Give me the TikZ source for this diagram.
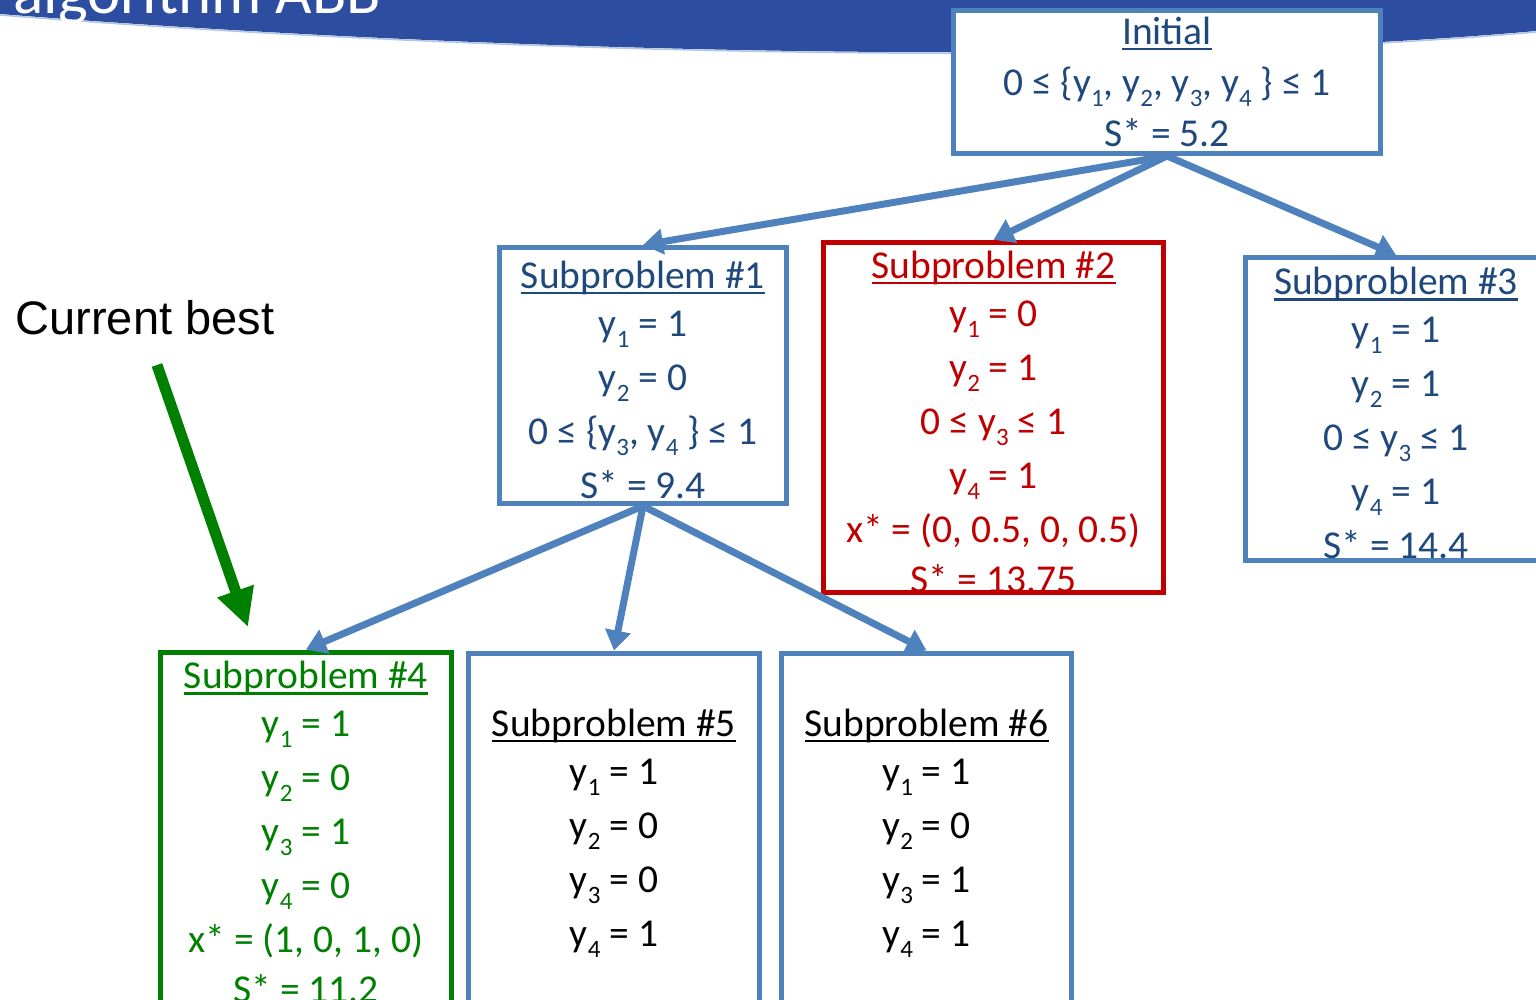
\documentclass[tikz,border=0pt]{standalone}
\usepackage{fontspec}
\setmainfont{Carlito}
\newfontfamily\arialfont{Liberation Sans}
\usetikzlibrary{arrows.meta}

\definecolor{boxblue}{HTML}{4F81BD}
\definecolor{txtblue}{HTML}{1F497D}
\definecolor{txtred}{HTML}{C00000}
\definecolor{txtgreen}{HTML}{008000}
\definecolor{bannerblue}{HTML}{2D4EA0}

% y with a lowered index
\newcommand{\yi}[1]{y\raisebox{-.28em}{\fontsize{25}{25}\selectfont #1}}
% underline at a fixed depth, crossing the descenders
\newcommand{\headul}[1]{\setbox0\hbox{#1}\rlap{\vrule height -.09em depth .15em width \wd0}\box0}
% heading of a subproblem box (taller strut, tighter gap below)
\newcommand{\subhead}[1]{\rule{0pt}{36pt}\headul{Subproblem \##1}}

\begin{document}
\begin{tikzpicture}[x=1pt,y=-1pt,
    every node/.style={font=\fontsize{39.5}{54}\selectfont},
    subbox/.style={draw=boxblue,line width=5pt,fill=white,align=center,inner sep=0pt,text=txtblue},
    link/.style={boxblue,line width=7pt,-{Triangle[width=25pt,length=20pt]}}]
  \useasboundingbox (0,0) rectangle (1536,1000);
  \clip (0,0) rectangle (1536,1000);

  % title banner
  \fill[bannerblue] (0,0) -- (0,14) .. controls (450,50) and (1100,70) .. (1536,31) -- (1536,0) -- cycle;
  \draw[boxblue!45,line width=1.5pt] (0,15) .. controls (450,51) and (1100,71) .. (1536,32);
  \node[anchor=base west,text=white,font=\fontsize{63}{63}\selectfont] (banner) at (10,14) {algorithm ABB};

  %% the tree
  \node[subbox,minimum width=427pt,minimum height=143pt,font=\fontsize{39.5}{51}\selectfont] (init) at (1167,82)
    {\headul{Initial}\\ 0 ≤ \{\yi{1}, \yi{2}, \yi{3}, \yi{4} \} ≤ 1\\ S* = 5.2};
  \node[subbox,minimum width=287pt,minimum height=256pt] (sub1) at (643,375.5)
    {\subhead{1}\\[-6pt] \yi{1} = 1\\ \yi{2} = 0\\ 0 ≤ \{\yi{3}, \yi{4} \} ≤ 1\\ S* = 9.4};
  \node[subbox,draw=txtred,text=txtred,minimum width=340pt,minimum height=342pt] (sub2) at (993.5,417.5)
    {\subhead{2}\\[-6pt] \yi{1} = 0\\ \yi{2} = 1\\ 0 ≤ \yi{3} ≤ 1\\ \yi{4} = 1\\ x* = (0, 0.5, 0, 0.5)\\[-4pt] S* = 13.75};
  \node[subbox,minimum width=301pt,minimum height=303pt] (sub3) at (1396,409)
    {\subhead{3}\\[-6pt] \yi{1} = 1\\ \yi{2} = 1\\ 0 ≤ \yi{3} ≤ 1\\ \yi{4} = 1\\ S* = 14.4};
  \node[subbox,draw=txtgreen,text=txtgreen,minimum width=291pt,minimum height=352pt] (sub4) at (306,828)
    {\subhead{4}\\[-6pt] \yi{1} = 1\\ \yi{2} = 0\\ \yi{3} = 1\\ \yi{4} = 0\\ x* = (1, 0, 1, 0)\\[-4pt] S* = 11.2};
  \node[subbox,text=black,minimum width=291pt,minimum height=352pt] (sub5) at (614,829)
    {\subhead{5}\\[-6pt] \yi{1} = 1\\ \yi{2} = 0\\ \yi{3} = 0\\ \yi{4} = 1};
  \node[subbox,text=black,minimum width=290pt,minimum height=352pt] (sub6) at (926.5,829)
    {\subhead{6}\\[-6pt] \yi{1} = 1\\ \yi{2} = 0\\ \yi{3} = 1\\ \yi{4} = 1};

  % branches
  \foreach \k in {sub1,sub2,sub3}
    \draw[link] (init.south) -- (\k.north);
  \foreach \k in {sub4,sub5,sub6}
    \draw[link] (sub1.south) -- (\k.north);

  % pointer to the incumbent
  \node[anchor=base west,font=\arialfont\fontsize{47}{47}\selectfont] (best) at (12,334) {Current best};
  \coordinate (bestfrom) at (157,365);
  \coordinate (bestto) at (248,627);
  \draw[txtgreen,line width=11pt,-{Triangle[width=36pt,length=38pt]}] (bestfrom) -- (bestto);
\end{tikzpicture}
\end{document}
